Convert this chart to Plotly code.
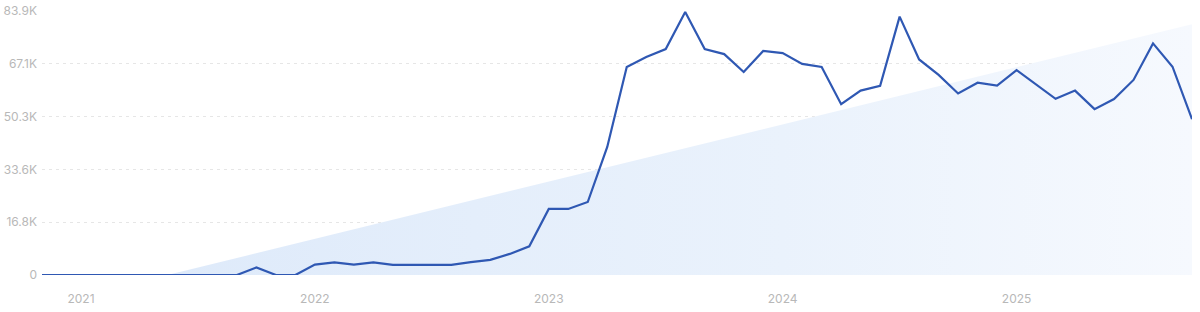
import numpy as np
import plotly.graph_objects as go

# Monthly values, Nov 2020 .. Oct 2025
months = [
    "2020-11", "2020-12",
    "2021-01", "2021-02", "2021-03", "2021-04", "2021-05", "2021-06",
    "2021-07", "2021-08", "2021-09", "2021-10", "2021-11", "2021-12",
    "2022-01", "2022-02", "2022-03", "2022-04", "2022-05", "2022-06",
    "2022-07", "2022-08", "2022-09", "2022-10", "2022-11", "2022-12",
    "2023-01", "2023-02", "2023-03", "2023-04", "2023-05", "2023-06",
    "2023-07", "2023-08", "2023-09", "2023-10", "2023-11", "2023-12",
    "2024-01", "2024-02", "2024-03", "2024-04", "2024-05", "2024-06",
    "2024-07", "2024-08", "2024-09", "2024-10", "2024-11", "2024-12",
    "2025-01", "2025-02", "2025-03", "2025-04", "2025-05", "2025-06",
    "2025-07", "2025-08", "2025-09", "2025-10",
]
values = [
    0, 0,
    0, 0, 0, 0, 0, 0,
    0, 0, 0, 2400, 0, 0,
    3300, 4000, 3300, 4000, 3200, 3200,
    3200, 3200, 4100, 4800, 6700, 9100,
    21000, 21000, 23200, 40700, 66100, 69300,
    71800, 83600, 71800, 70200, 64500, 71200,
    70500, 67100, 66100, 54300, 58600, 60100,
    82100, 68500, 63600, 57700, 61100, 60200,
    65100, 60600, 56000, 58600, 52700, 55900,
    62000, 73600, 66200, 49500,
]
year_labels = ["2021", "2022", "2023", "2024", "2025"]
year_months = ["2021-01", "2022-01", "2023-01", "2024-01", "2025-01"]
y_ticks = [0, 16780, 33560, 50340, 67120, 83900]
y_tick_labels = ["0", "16.8K", "33.6K", "50.3K", "67.1K", "83.9K"]

idx = np.arange(len(values))
vals = np.array(values, dtype=float)

# linear trend of the series (drawn as the shaded background area)
slope, intercept = np.polyfit(idx, vals, 1)
x_end = idx[-1]
trend_end = slope * x_end + intercept
x_zero = -intercept / slope if slope != 0 else 0
x_zero = max(0.0, x_zero)
trend_x = [x_zero, x_end]
trend_y = [max(0.0, slope * x_zero + intercept), trend_end]

fig = go.Figure()
fig.add_trace(go.Scatter(
    x=trend_x, y=trend_y, mode="lines", line=dict(width=0),
    fill="tozeroy",
    fillgradient=dict(
        type="horizontal",
        colorscale=[[0, "rgba(222,234,250,1)"], [0.6, "rgba(234,242,252,1)"], [1, "rgba(246,249,254,1)"]],
    ),
    hoverinfo="skip", showlegend=False,
))
fig.add_trace(go.Scatter(
    x=idx, y=vals, mode="lines",
    line=dict(color="#2f58b3", width=2.2),
    showlegend=False,
))

tick_pos = [months.index(m) for m in year_months]

fig.update_layout(
    width=1200, height=312,
    margin=dict(l=42, r=8, t=11, b=37, autoexpand=False),
    paper_bgcolor="white", plot_bgcolor="white",
    font=dict(family="Inter, Roboto, sans-serif", size=12, color="#b8b8b8"),
    xaxis=dict(
        range=[0, x_end], tickvals=tick_pos, ticktext=year_labels,
        showgrid=False, zeroline=False, showline=False, ticks="",
        automargin=False, ticklabelstandoff=15,
        tickfont=dict(size=12, color="#b8b8b8"),
    ),
    yaxis=dict(
        range=[0, 83900], tickvals=y_ticks, ticktext=y_tick_labels,
        showgrid=True, gridcolor="#e6e6e6", griddash="3px,4px", gridwidth=1,
        zeroline=False, showline=False, ticks="", ticklabelstandoff=4,
        automargin=False,
        tickfont=dict(size=12, color="#b8b8b8"),
    ),
)

fig.write_html("out.html")
